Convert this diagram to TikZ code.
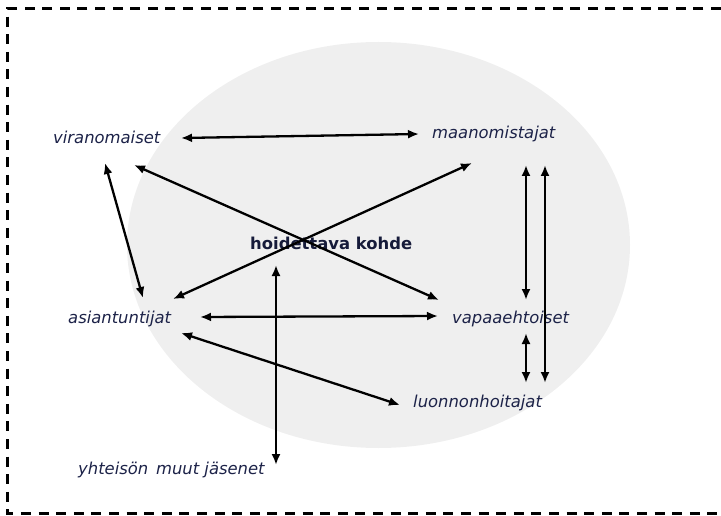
\documentclass[tikz,border=0pt]{standalone}
\usepackage{fontspec}
\setmainfont{DejaVu Sans}
\usetikzlibrary{arrows.meta}
\definecolor{txt}{RGB}{28,34,72}
\definecolor{blob}{RGB}{239,239,239}
\tikzset{
  lbl/.style={anchor=base west, inner sep=0pt, text=txt, font=\fontsize{16.4}{18}\selectfont\itshape},
  ctr/.style={anchor=base west, inner sep=0pt, text=txt!80!black, font=\fontsize{16.4}{18}\selectfont\bfseries},
  link/.style={line width=2.3pt, {Latex[length=11pt,width=9pt]}-{Latex[length=11pt,width=9pt]}},
  frame/.style={line width=2.2pt, dash pattern=on 10pt off 7.6pt}
}
\begin{document}
\begin{tikzpicture}[x=1pt,y=-1pt]
\useasboundingbox (0,0) rectangle (721,516);
\fill[blob] (378.5,245) ellipse [x radius=251.5, y radius=203];
\draw[frame] (721,8.5) -- (7.5,8.5) -- (7.5,513.5) -- (721,513.5);

\node[lbl] (vir) at (53,144) {viranomaiset};
\node[lbl] (maa) at (432,139) {maanomistajat};
\node[ctr] (hoi) at (250,249) {hoidettava kohde};
\node[lbl] (asi) at (68,323) {asiantuntijat};
\node[lbl] (vap) at (452,323) {vapaaehtoiset};
\node[lbl] (luo) at (413,407) {luonnonhoitajat};
\node[lbl] (yht) at (78,474) {yhteisön\hspace{2.5pt} muut jäsenet};

\draw[link] ([shift={(128,-6)}]vir.base west) -- ([shift={(-13,-5)}]maa.base west);
\draw[link] ([shift={(81,21)}]vir.base west) -- ([shift={(-13,-23)}]vap.base west);
\draw[link] ([shift={(40,24)}]maa.base west) -- ([shift={(105,-24)}]asi.base west);
\draw[link] ([shift={(52,19)}]vir.base west) -- ([shift={(75,-25)}]asi.base west);
\draw[link] ([shift={(132,-6)}]asi.base west) -- ([shift={(-14,-7)}]vap.base west);
\draw[link] ([shift={(113,10)}]asi.base west) -- ([shift={(-13,-2)}]luo.base west);
\draw[link] ([shift={(26,16)}]hoi.base west) -- ([shift={(198,-9)}]yht.base west);
\draw[link] ([shift={(94,26)}]maa.base west) -- ([shift={(74,-23)}]vap.base west);
\draw[link] ([shift={(113,26)}]maa.base west) -- ([shift={(132,-24)}]luo.base west);
\draw[link] ([shift={(74,10)}]vap.base west) -- ([shift={(113,-24)}]luo.base west);
\end{tikzpicture}
\end{document}
